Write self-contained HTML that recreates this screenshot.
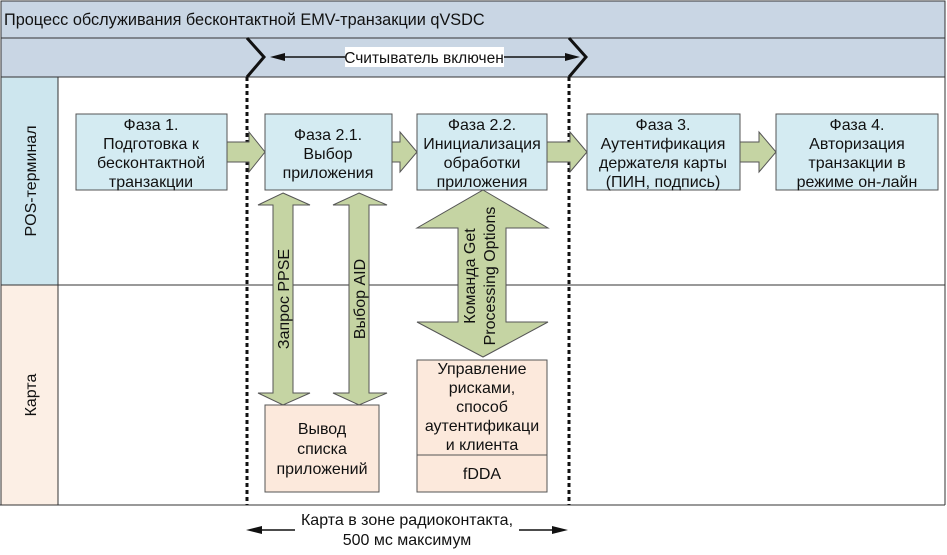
<!DOCTYPE html>
<html><head><meta charset="utf-8"><style>
body{margin:0;background:#fff}
svg text{font-family:"Liberation Sans",sans-serif;font-size:16px;fill:#111}
</style></head><body>
<svg width="947" height="550" viewBox="0 0 947 550" xmlns="http://www.w3.org/2000/svg">
<rect x="0" y="0" width="947" height="550" fill="#fff"/>
<rect x="1" y="1" width="944" height="37" fill="#c9d6e4" stroke="#333"/>
<rect x="1" y="38" width="944" height="39" fill="#c9d6e4" stroke="#333"/>
<text x="4" y="25" style="font-size:16.3px">Процесс обслуживания бесконтактной EMV-транзакции qVSDC</text>
<rect x="1" y="77" width="57" height="208" fill="#cde6ee" stroke="#333"/>
<rect x="1" y="285" width="57" height="220" fill="#fcefe5" stroke="#333"/>
<line x1="58" y1="77" x2="945" y2="77" stroke="#333"/>
<line x1="58" y1="285" x2="945" y2="285" stroke="#333"/>
<line x1="0" y1="505" x2="945" y2="505" stroke="#333"/>
<line x1="945" y1="38" x2="945" y2="505" stroke="#333"/>
<text transform="translate(36,181) rotate(-90)" text-anchor="middle">POS-терминал</text>
<text transform="translate(36,395) rotate(-90)" text-anchor="middle">Карта</text>
<polyline points="247,38 264,57 247,77" fill="none" stroke="#111" stroke-width="3"/>
<polyline points="569,38 586,57 569,77" fill="none" stroke="#111" stroke-width="3"/>
<line x1="247" y1="77" x2="247" y2="505" stroke="#111" stroke-width="3" stroke-dasharray="4,3"/>
<line x1="569" y1="77" x2="569" y2="505" stroke="#111" stroke-width="3" stroke-dasharray="4,3"/>
<line x1="280" y1="57" x2="570" y2="57" stroke="#111" stroke-width="1.5"/>
<polygon points="270,57 285,53 285,61" fill="#111"/>
<polygon points="580,57 565,53 565,61" fill="#111"/>
<rect x="345" y="47" width="159" height="20" fill="#fff"/>
<text x="424" y="63" text-anchor="middle" style="font-size:15.5px">Считыватель включен</text>
<g fill="#c5d4a3" stroke="#555" stroke-width="1">
<polygon points="227,142 249,142 249,132 265,152 249,172 249,162 227,162"/>
<polygon points="392,142 400,142 400,132 417,152 400,172 400,162 392,162"/>
<polygon points="547,142 570,142 570,132 587,152 570,172 570,162 547,162"/>
<polygon points="740,142 759,142 759,132 776,152 759,172 759,162 740,162"/>
<polygon points="283,193 310,205 293,205 293,393 310,393 283,405 258,393 273,393 273,205 258,205"/>
<polygon points="359,193 387,205 369,205 369,393 387,393 359,405 333,393 349,393 349,205 333,205"/>
<polygon points="483,190 548,228 506,228 506,322 548,322 483,357 417,322 458,322 458,228 417,228"/>
</g>
<g fill="#d4ebf2" stroke="#555">
<rect x="76" y="114" width="151" height="76"/>
<rect x="265" y="114" width="127" height="76"/>
<rect x="417" y="114" width="130" height="76"/>
<rect x="587" y="114" width="153" height="76"/>
<rect x="776" y="114" width="162" height="76"/>
</g>
<g fill="#fce9dc" stroke="#555">
<rect x="265" y="405" width="114" height="87"/>
<rect x="417" y="360" width="130" height="132"/>
</g>
<line x1="417" y1="455" x2="547" y2="455" stroke="#555"/>
<g text-anchor="middle">
<text x="151" y="130">Фаза 1.</text><text x="151" y="149">Подготовка к</text><text x="151" y="168">бесконтактной</text><text x="151" y="187">транзакции</text>
<text x="328" y="140">Фаза 2.1.</text><text x="328" y="159">Выбор</text><text x="328" y="178">приложения</text>
<text x="482" y="130">Фаза 2.2.</text><text x="482" y="149">Инициализация</text><text x="482" y="168">обработки</text><text x="482" y="187">приложения</text>
<text x="663" y="130">Фаза 3.</text><text x="663" y="149">Аутентификация</text><text x="663" y="168">держателя карты</text><text x="663" y="187">(ПИН, подпись)</text>
<text x="857" y="130">Фаза 4.</text><text x="857" y="149">Авторизация</text><text x="857" y="168">транзакции в</text><text x="857" y="187">режиме он-лайн</text>
<text x="322" y="434">Вывод</text><text x="322" y="454">списка</text><text x="322" y="474">приложений</text>
<text x="482" y="374">Управление</text><text x="482" y="393">рисками,</text><text x="482" y="412">способ</text><text x="482" y="431">аутентификаци</text><text x="482" y="450">и клиента</text>
<text x="482" y="479">fDDA</text>
<text transform="translate(289,299) rotate(-90)">Запрос PPSE</text>
<text transform="translate(365,299) rotate(-90)">Выбор AID</text>
<text transform="translate(475,276) rotate(-90)">Команда Get</text>
<text transform="translate(495,276) rotate(-90)">Processing Options</text>
<text x="407" y="525">Карта в зоне радиоконтакта,</text>
<text x="407" y="545">500 мс максимум</text>
</g>
<line x1="258" y1="530" x2="295" y2="530" stroke="#111" stroke-width="1.5"/>
<polygon points="246,530 262,526 262,534" fill="#111"/>
<line x1="519" y1="530" x2="556" y2="530" stroke="#111" stroke-width="1.5"/>
<polygon points="568,530 552,526 552,534" fill="#111"/>
</svg>
</body></html>
